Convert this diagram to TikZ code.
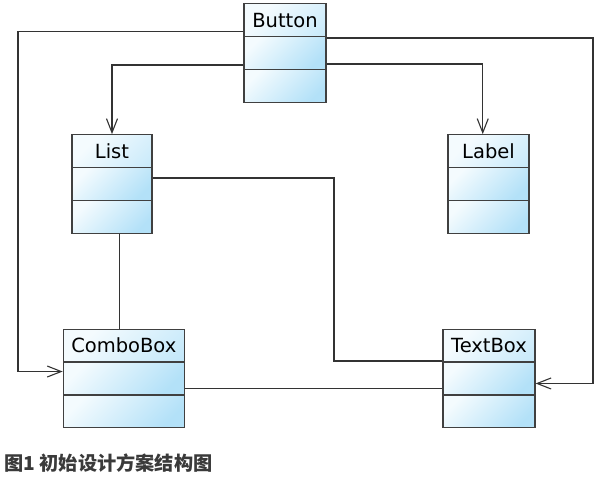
\documentclass[tikz,border=0pt]{standalone}
\usepackage{fontspec}
\usepackage{xcolor}
\usepackage{tikz}
\usetikzlibrary{positioning, calc, arrows.meta}
\newfontfamily\umlfont{DejaVu Sans}
\newfontfamily\cjk{Noto Sans CJK SC}
\definecolor{umllight}{HTML}{F4FBFE}
\definecolor{umlblue}{HTML}{B3E1F8}
\definecolor{umlborder}{HTML}{404040}
\definecolor{umlline}{HTML}{333333}
\definecolor{capgray}{HTML}{3A3A3A}
\tikzset{% use tikzset not tikzstyle
	umlclass/.style={shape=rectangle, draw=umlborder, line width=0.6pt,
		inner sep=0pt, text height=11.75pt, text depth=37.5pt,
		font=\umlfont\fontsize{9.75}{11}\selectfont,
		path picture={
			\foreach \a/\b in {0/0.3333,0.3333/0.6667,0.6667/1}
				\shade[top color=umllight, bottom color=umlblue, shading angle=45]
				($(path picture bounding box.north west)!\a!(path picture bounding box.south west)$)
				rectangle
				($(path picture bounding box.north east)!\b!(path picture bounding box.south east)$);
			\foreach \a in {0.3333,0.6667}
				\draw[umlborder, line width=0.6pt]
				($(path picture bounding box.north west)!\a!(path picture bounding box.south west)$) --
				($(path picture bounding box.north east)!\a!(path picture bounding box.south east)$);
		}},
	assoc/.style={-{Straight Barb[length=7pt,width=5.5pt]}, umlline, line width=0.55pt},
	link/.style={umlline, line width=0.55pt},
}
\begin{document}
\begin{tikzpicture}[x=0.5pt, y=-0.5pt]
	\useasboundingbox (0,0) rectangle (612,486);
	% classes
	\node[umlclass, minimum width=41pt] (button) at (285,53) {Button};
	\node[umlclass, minimum width=40pt] (list) at (112,184) {List};
	\node[umlclass, minimum width=40.5pt] (label) at (488.5,184) {Label};
	\node[umlclass, minimum width=60.5pt] (combo) at (123.8,378.5) {ComboBox};
	\node[umlclass, minimum width=46pt] (textbox) at (489,378.5) {TextBox};
	
	\node[anchor=base west, inner sep=0pt, text=capgray,
	font=\cjk\bfseries\fontsize{9.6}{11}\selectfont] (caption) at (4,471)
	{图1 初始设计方案结构图};
	
	% rails for the long connectors
	\coordinate (railL) at (18,0);
	\coordinate (railR) at (593,0);
	\coordinate (railM) at (334,0);
	
	\coordinate (b1) at ($(button.north west)!.28!(button.south west)$);
	\coordinate (b2) at ($(button.north west)!.62!(button.south west)$);
	\coordinate (b3) at ($(button.north east)!.35!(button.south east)$);
	\coordinate (b4) at ($(button.north east)!.61!(button.south east)$);
	\coordinate (l1) at ($(list.north east)!.44!(list.south east)$);
	\coordinate (l2) at ($(list.south west)!.59!(list.south east)$);
	\coordinate (c1) at ($(combo.north east)!.60!(combo.south east)$);
	
	\draw[assoc] (b1) -- (b1 -| railL) |- ($(combo.north west)!.43!(combo.south west)$);
	\draw[assoc] (b2) -| (list.north);
	\draw[assoc] (b3) -- (b3 -| railR) |- ($(textbox.north east)!.55!(textbox.south east)$);
	\draw[assoc] (b4) -| ($(label.north west)!.43!(label.north east)$);
	
	\draw[link] (l1) -- (l1 -| railM) |- ($(textbox.north west)!.325!(textbox.south west)$);
	\draw[link] (l2) -- (l2 |- combo.north);
	\draw[link] (c1) -- (c1 -| textbox.west);
\end{tikzpicture}
\end{document}
